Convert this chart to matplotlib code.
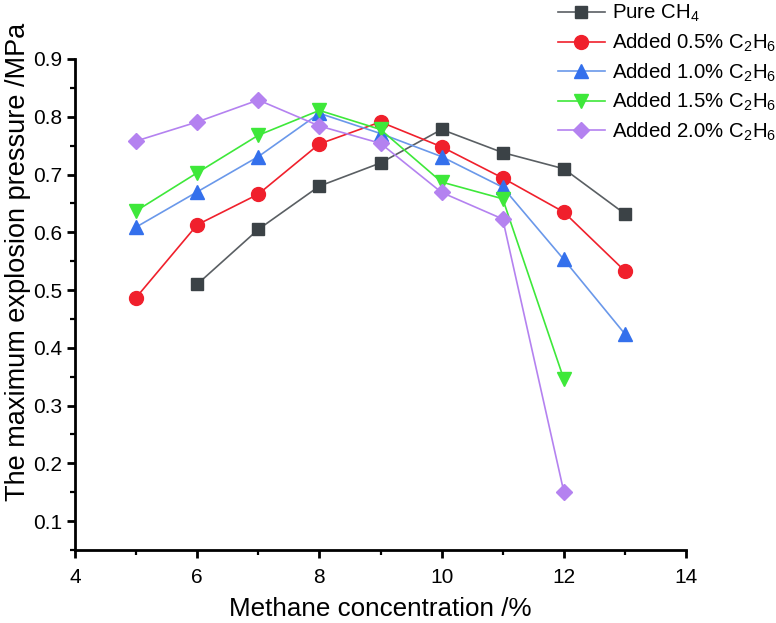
import matplotlib
matplotlib.use("Agg")
import matplotlib.pyplot as plt
from matplotlib.ticker import MultipleLocator
from matplotlib import font_manager

names = {f.name for f in font_manager.fontManager.ttflist}
narrow = 'Liberation Sans Narrow' if 'Liberation Sans Narrow' in names else 'Liberation Sans'
plt.rcParams['font.family'] = ['Liberation Sans', 'DejaVu Sans']
plt.rcParams['mathtext.fontset'] = 'custom'
plt.rcParams['mathtext.rm'] = 'Liberation Sans'
plt.rcParams['mathtext.it'] = 'Liberation Sans'

x_pure = [6, 7, 8, 9, 10, 11, 12, 13]
y_pure = [0.510, 0.605, 0.680, 0.720, 0.778, 0.738, 0.710, 0.632]
x_05 = [5, 6, 7, 8, 9, 10, 11, 12, 13]
y_05 = [0.487, 0.613, 0.666, 0.753, 0.791, 0.748, 0.694, 0.635, 0.533]
x_10 = [5, 6, 7, 8, 9, 10, 11, 12, 13]
y_10 = [0.609, 0.670, 0.731, 0.806, 0.771, 0.731, 0.678, 0.553, 0.424]
x_15 = [5, 6, 7, 8, 9, 10, 11, 12]
y_15 = [0.637, 0.703, 0.768, 0.811, 0.778, 0.687, 0.658, 0.346]
x_20 = [5, 6, 7, 8, 9, 10, 11, 12]
y_20 = [0.758, 0.791, 0.829, 0.784, 0.754, 0.669, 0.623, 0.151]

labels = ['Pure CH$_4$', 'Added 0.5% C$_2$H$_6$', 'Added 1.0% C$_2$H$_6$',
          'Added 1.5% C$_2$H$_6$', 'Added 2.0% C$_2$H$_6$']
x_ticks = [4, 6, 8, 10, 12, 14]
y_ticks = [0.1, 0.2, 0.3, 0.4, 0.5, 0.6, 0.7, 0.8, 0.9]

fig = plt.figure(figsize=(7.76, 6.23), dpi=100)
ax = fig.add_axes([75 / 776, (623 - 550) / 623, (686 - 75) / 776, (550 - 59) / 623])

series = [
    (x_pure, y_pure, '#3b4246', '#5a5f63', 's', 8.5),
    (x_05, y_05, '#f0202c', '#f0202c', 'o', 10),
    (x_10, y_10, '#3470ec', '#6a98ea', '^', 10.5),
    (x_15, y_15, '#3ee83a', '#3ee83a', 'v', 10.5),
    (x_20, y_20, '#b482f0', '#b482f0', 'D', 8),
]
for (xs, ys, mc, lc, m, ms), lab in zip(series, labels):
    ax.plot(xs, ys, color=lc, lw=1.2, marker=m, markersize=ms,
            markerfacecolor=mc, markeredgecolor=mc, label=lab, clip_on=False)

ax.set_xlim(4, 14)
ax.set_ylim(0.05, 0.9)
ax.set_xticks(x_ticks)
ax.set_yticks(y_ticks)
ax.set_yticklabels([f'{v:.1f}' for v in y_ticks])
ax.xaxis.set_minor_locator(MultipleLocator(1))
ax.yaxis.set_minor_locator(MultipleLocator(0.05))
ax.spines['top'].set_visible(False)
ax.spines['right'].set_visible(False)
for s in ['left', 'bottom']:
    ax.spines[s].set_linewidth(2.0)
ax.tick_params(which='major', direction='out', length=6, width=2.0, labelsize=15)
ax.tick_params(which='minor', direction='out', length=3.5, width=1.6)
ax.tick_params(axis='x', which='major', pad=7)
for t in ax.get_xticklabels():
    t.set_fontfamily(narrow)
    t.set_fontsize(15)
ax.set_xlabel('Methane concentration /%', fontsize=18.75, family=narrow)
ax.xaxis.set_label_coords(0.5, -0.096)
ax.set_ylabel('The maximum explosion pressure /MPa', fontsize=19.5)
ax.yaxis.set_label_coords(-0.072, 0.587)

leg = fig.legend(loc='upper left', bbox_to_anchor=(558 / 776, 1 - 3 / 623), frameon=False,
                 fontsize=14.7, handlelength=2.3, handletextpad=0.34, labelspacing=0.36,
                 borderaxespad=0, borderpad=0)

fig.savefig('out.png', dpi=100)
